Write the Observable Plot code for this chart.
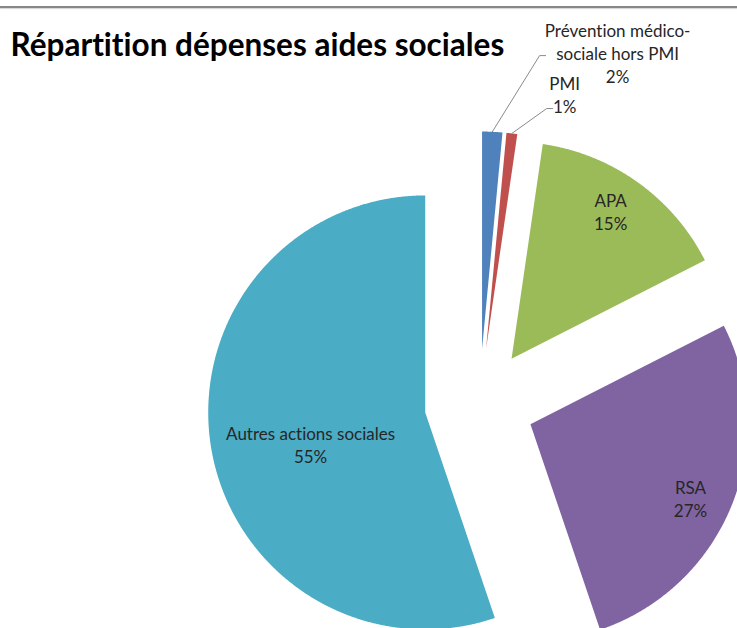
<!DOCTYPE html>
<html><head><meta charset="utf-8">
<script src="https://cdn.jsdelivr.net/npm/d3@7"></script>
<script src="https://cdn.jsdelivr.net/npm/@observablehq/plot@0.6"></script>
<style>
html,body{margin:0;padding:0;background:#fff;overflow:hidden}
#wrap{position:relative;width:737px;height:628px;overflow:hidden}
#topline{position:absolute;left:0;top:6px;width:737px;height:2px;background:#878787;box-shadow:0 1px 1px #d4d4d4}
#wrap svg{overflow:hidden;display:block}
#wrap svg text{font-variant-ligatures:none;font-feature-settings:"liga" 0}
</style></head><body><div id="wrap"><div id="topline"></div></div>
<script>
// ---- data ----
const categories = ["Prévention médico-sociale hors PMI", "PMI", "APA", "RSA", "Autres actions sociales"];
const labelLines = [["Prévention médico-", "sociale hors PMI"], ["PMI"], ["APA"], ["RSA"], ["Autres actions sociales"]];
const shares = [1.5, 0.8, 15.2, 27.3, 55.2];
const colors = ["#4F81BD", "#C0504D", "#9BBB59", "#8064A2", "#4BACC6"];
const title = "Répartition dépenses aides sociales";

// ---- layout ----
const W = 737, H = 628, CX = 479, CY = 403, R = 217, EXPLODE = 55;
const ex = EXPLODE / R;
// label placement: radius (in pie radii) and angular shift (deg) from slice bisector, measured from exploded apex
const labelLayout = [
  {r: 1.50, da: 21.9, leader: [[-78, 3], [-72, 3]]},
  {r: 1.229, da: 10.3, leader: [[-18, 14.5], [-12, 14.5]]},
  {r: 0.82, da: -1.8},
  {r: 0.813, da: 2.75},
  {r: 0.548, da: -6}
];
const FONT = "Lato, 'Open Sans', sans-serif";

const rows = categories.map((name, i) => ({name, share: shares[i], i}));
const arcs = d3.pie().sort(null).value(d => d.share)(rows);
const rad = Math.PI / 180;

const poly = [], labels = [], leaders = [];
for (const a of arcs) {
  const m = (a.startAngle + a.endAngle) / 2;
  const ax = ex * Math.sin(m), ay = ex * Math.cos(m);
  const name = a.data.name;
  poly.push({name, x: ax, y: ay});
  const n = Math.max(2, Math.ceil((a.endAngle - a.startAngle) / 0.004) + 1);
  for (let k = 0; k < n; k++) {
    const t = a.startAngle + (a.endAngle - a.startAngle) * k / (n - 1);
    poly.push({name, x: ax + Math.sin(t), y: ay + Math.cos(t)});
  }
  const L = labelLayout[a.data.i];
  const la = m + L.da * rad;
  const lx = ax + L.r * Math.sin(la), ly = ay + L.r * Math.cos(la);
  labels.push({name, x: lx, y: ly, text: [...labelLines[a.data.i], Math.round(a.data.share) + "%"].join("\n")});
  if (L.leader) {
    leaders.push({name, x: ax + Math.sin(m), y: ay + Math.cos(m)});
    for (const [dx, dy] of L.leader) leaders.push({name, x: lx + dx / R, y: ly - dy / R});
  }
}

const chart = Plot.plot({
  width: W, height: H,
  margin: 0,
  style: {fontFamily: FONT, background: "transparent"},
  x: {domain: [-CX / R, (W - CX) / R], axis: null},
  y: {domain: [(CY - H) / R, CY / R], axis: null},
  color: {domain: categories, range: colors},
  marks: [
    Plot.line(poly, {x: "x", y: "y", z: "name", fill: "name", stroke: "none", curve: "linear-closed"}),
    Plot.line(leaders, {x: "x", y: "y", z: "name", stroke: "#8a8a8a", strokeWidth: 1}),
    Plot.text(labels, {x: "x", y: "y", text: "text", fontSize: 17, lineHeight: 1.36, fill: "#262626", fontFamily: FONT}),
    Plot.text([title], {frameAnchor: "top-left", text: d => d, textAnchor: "start", lineAnchor: "top", dx: 10, dy: 33, fontSize: 31.5, fontWeight: "bold", fill: "#000", fontFamily: FONT})
  ]
});
document.getElementById("wrap").appendChild(chart);
</script>
</body></html>
